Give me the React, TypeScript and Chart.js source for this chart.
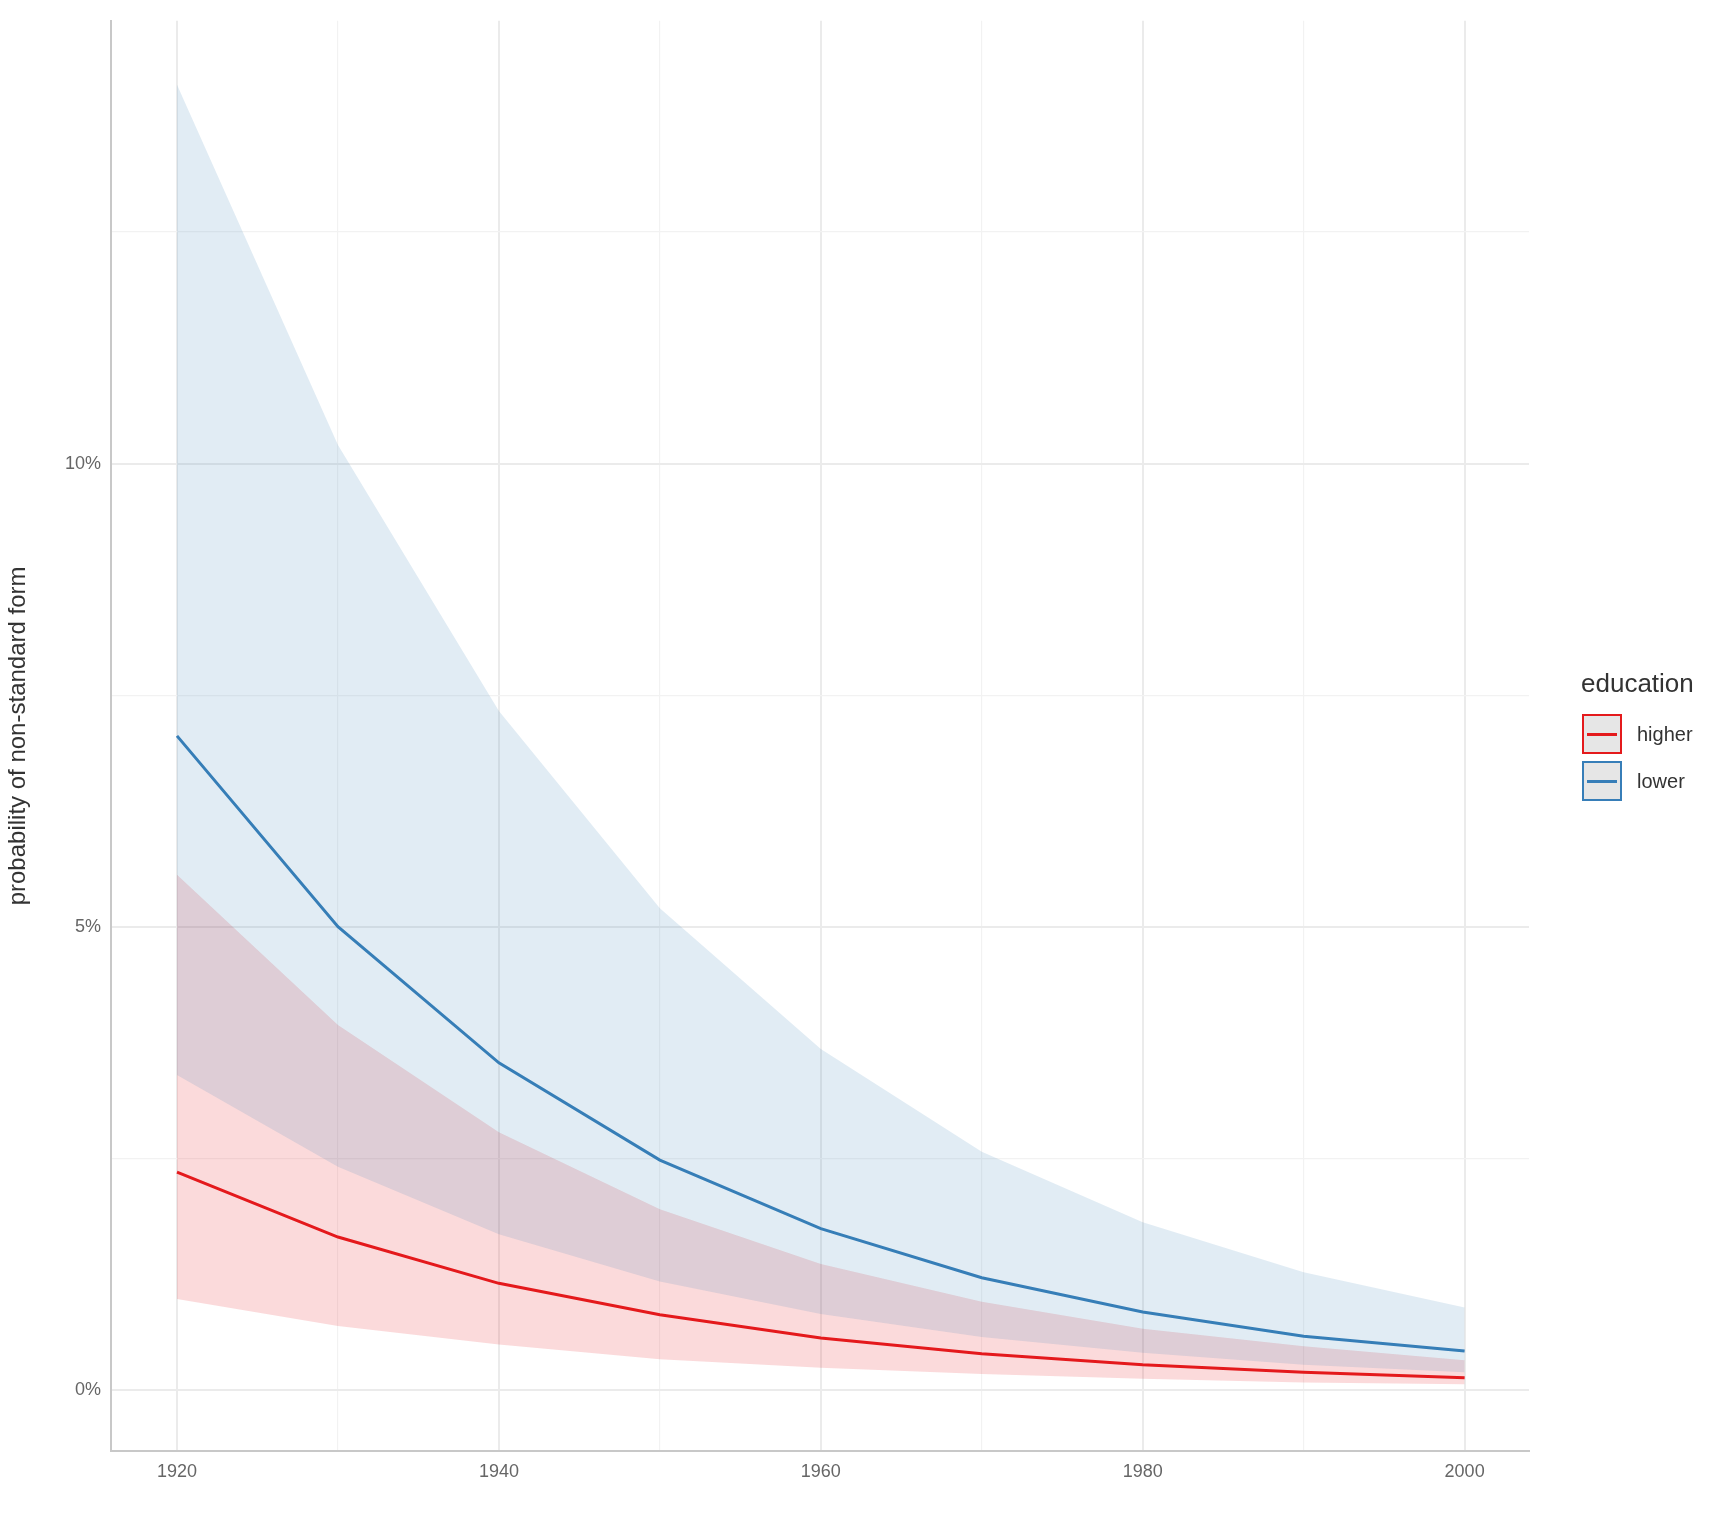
import { useEffect, useRef } from 'react';
import { Chart, registerables } from 'chart.js';

Chart.register(...registerables);

const years = [1920, 1930, 1940, 1950, 1960, 1970, 1980, 1990, 2000];
const lowerMean = [7.06, 5.0, 3.53, 2.48, 1.74, 1.21, 0.84, 0.58, 0.42];
const lowerHigh = [14.09, 10.2, 7.33, 5.2, 3.68, 2.57, 1.81, 1.27, 0.89];
const lowerLow = [3.4, 2.41, 1.68, 1.17, 0.82, 0.57, 0.4, 0.27, 0.19];
const higherMean = [2.35, 1.65, 1.15, 0.81, 0.56, 0.39, 0.27, 0.19, 0.13];
const higherHigh = [5.56, 3.94, 2.78, 1.95, 1.36, 0.95, 0.66, 0.47, 0.32];
const higherLow = [0.98, 0.69, 0.49, 0.33, 0.24, 0.17, 0.12, 0.08, 0.06];

const RED = '#e41a1c';
const BLUE = '#377eb8';
const pts = (v: number[]) => years.map((x, i) => ({ x, y: v[i] }));

export default function App() {
  const canvasRef = useRef<HTMLCanvasElement>(null);

  useEffect(() => {
    if (!canvasRef.current) return;
    const chart = new Chart(canvasRef.current, {
      type: 'line',
      data: {
        datasets: [
          { data: pts(lowerHigh), borderWidth: 0, pointRadius: 0, fill: 1, backgroundColor: 'rgba(55,126,184,0.15)' },
          { data: pts(lowerLow), borderWidth: 0, pointRadius: 0, fill: false },
          { data: pts(higherHigh), borderWidth: 0, pointRadius: 0, fill: 3, backgroundColor: 'rgba(228,26,28,0.16)' },
          { data: pts(higherLow), borderWidth: 0, pointRadius: 0, fill: false },
          { data: pts(lowerMean), borderColor: BLUE, borderWidth: 3, pointRadius: 0, fill: false },
          { data: pts(higherMean), borderColor: RED, borderWidth: 3, pointRadius: 0, fill: false },
        ],
      },
      options: {
        animation: false,
        responsive: false,
        layout: { padding: { left: 0, right: 199, top: 12, bottom: 0 } },
        plugins: { legend: { display: false }, tooltip: { enabled: false } },
        scales: {
          x: {
            type: 'linear',
            min: 1915.9,
            max: 2004,
            afterFit: (s: any) => { s.height = 85; },
            ticks: {
              stepSize: 10,
              includeBounds: false,
              color: '#666',
              font: { family: 'Liberation Sans', size: 18 },
              padding: 10,
              callback: (v: any) => (Number(v) % 20 === 0 ? String(v) : ''),
            },
            grid: {
              drawTicks: false,
              color: (c: any) => (c.tick && c.tick.value % 20 === 0 ? '#ebebeb' : '#f2f2f2'),
              lineWidth: (c: any) => (c.tick && c.tick.value % 20 === 0 ? 2 : 1.2),
            },
            border: { display: true, color: '#c8c8c8', width: 2 },
          },
          y: {
            min: -0.66,
            max: 14.78,
            afterFit: (s: any) => { s.width = 111; },
            ticks: {
              stepSize: 2.5,
              includeBounds: false,
              color: '#666',
              font: { family: 'Liberation Sans', size: 18 },
              padding: 10,
              callback: (v: any) => (Math.abs(Number(v) % 5) < 1e-6 ? `${Math.round(Number(v))}%` : ''),
            },
            grid: {
              drawTicks: false,
              color: (c: any) => (c.tick && Math.abs(c.tick.value % 5) < 1e-6 ? '#ebebeb' : '#f2f2f2'),
              lineWidth: (c: any) => (c.tick && Math.abs(c.tick.value % 5) < 1e-6 ? 2 : 1.2),
            },
            border: { display: true, color: '#c8c8c8', width: 2 },
            title: {
              display: true,
              text: 'probability of non-standard form',
              color: '#333',
              font: { family: 'Liberation Sans', size: 24 },
              padding: 4,
            },
          },
        },
      },
    });
    return () => chart.destroy();
  }, []);

  const key = (color: string, label: string, top: number) => (
    <div style={{ position: 'absolute', left: 1582, top, display: 'flex', alignItems: 'center' }}>
      <div style={{ width: 40, height: 40, boxSizing: 'border-box', border: `2px solid ${color}`, background: '#e6e6e6', position: 'relative' }}>
        <div style={{ position: 'absolute', left: 3, right: 3, top: 17, height: 3, background: color }} />
      </div>
      <span style={{ marginLeft: 15, fontSize: 20, color: '#333' }}>{label}</span>
    </div>
  );

  return (
    <div style={{ position: 'absolute', left: 0, top: 0, width: 1728, height: 1536, background: '#fff', fontFamily: 'Liberation Sans' }}>
      <canvas ref={canvasRef} width={1728} height={1536} />
      <div style={{ position: 'absolute', left: 1581, top: 668, fontSize: 26, color: '#333' }}>education</div>
      {key(RED, 'higher', 714)}
      {key(BLUE, 'lower', 761)}
    </div>
  );
}
